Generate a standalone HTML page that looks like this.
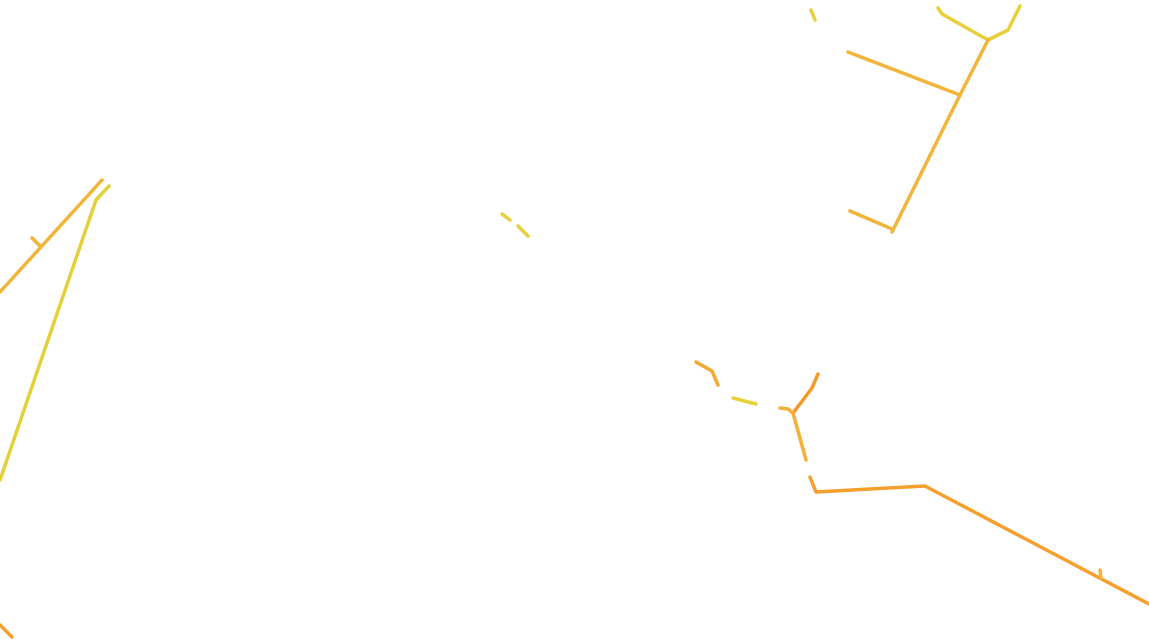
<!DOCTYPE html>
<html><head><style>html,body{margin:0;padding:0;background:#fff;width:1149px;height:641px;overflow:hidden}</style></head>
<body>
<svg width="1149" height="641" viewBox="0 0 1149 641" xmlns="http://www.w3.org/2000/svg" fill="none" stroke-width="3.5" stroke-linecap="round" stroke-linejoin="round">
<g stroke="#f0b53a">
<polyline points="938,8 942,14 988,40 1008,30 1020,6" stroke="#e9cf3a"/>
<polyline points="988,40 960,95 892,232"/>
<polyline points="848,52 960,95"/>
<polyline points="850,211 892,229"/>
<polyline points="811,10 815,20" stroke="#e9cf3a"/>
<polyline points="0,292 102,180"/>
<polyline points="32,238 40,246"/>
<polyline points="109,186 96,200 0,480" stroke="#e4d03a"/>
<polyline points="502,214 510,220" stroke="#e4d03a"/>
<polyline points="518,226 528,236" stroke="#e4d03a"/>
<polyline points="696,362 712,371 718,385" stroke="#f5a833"/>
<polyline points="733,398 756,404" stroke="#e6d13a"/>
<polyline points="818,374 812,388 803,400 793,413" stroke="#f59a2a"/>
<polyline points="780,408 788,409 793,413 806,460" stroke="#f5b035"/>
<polyline points="810,477 816,492 925,486 1149,604" stroke="#f5a02e"/>
<polyline points="1100,570 1101,578"/>
<polyline points="0,625 12,637" stroke="#f5a02e"/>
</g>
</svg>
</body></html>
